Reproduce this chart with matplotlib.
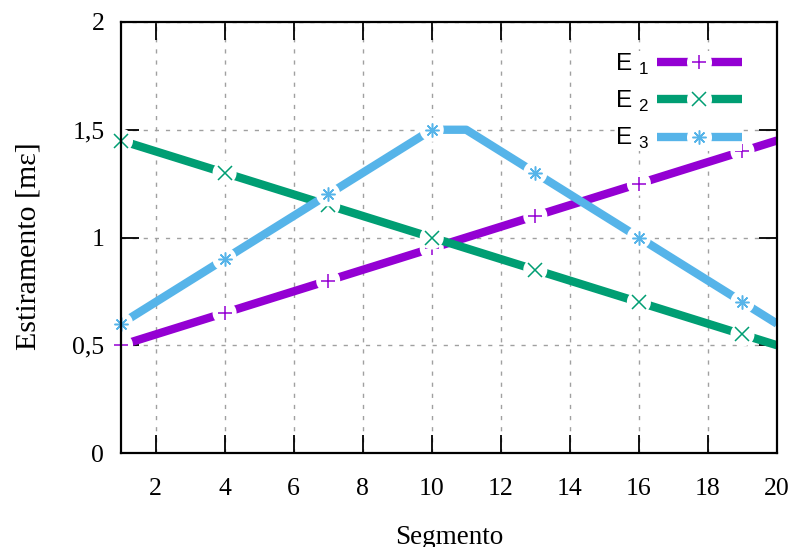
import matplotlib
matplotlib.use("Agg")
import matplotlib.pyplot as plt
from matplotlib.lines import Line2D
from matplotlib.legend_handler import HandlerTuple
from matplotlib.ticker import FuncFormatter

plt.rcParams['font.family'] = 'Liberation Serif'
plt.rcParams['mathtext.fontset'] = 'custom'
plt.rcParams['mathtext.rm'] = 'Liberation Sans'

segmento = list(range(1, 21))
e1 = [0.50, 0.55, 0.60, 0.65, 0.70, 0.75, 0.80, 0.85, 0.90, 0.95,
      1.00, 1.05, 1.10, 1.15, 1.20, 1.25, 1.30, 1.35, 1.40, 1.45]
e2 = [1.45, 1.40, 1.35, 1.30, 1.25, 1.20, 1.15, 1.10, 1.05, 1.00,
      0.95, 0.90, 0.85, 0.80, 0.75, 0.70, 0.65, 0.60, 0.55, 0.50]
e3 = [0.60, 0.70, 0.80, 0.90, 1.00, 1.10, 1.20, 1.30, 1.40, 1.50,
      1.50, 1.40, 1.30, 1.20, 1.10, 1.00, 0.90, 0.80, 0.70, 0.60]
labels = ['E $_1$', 'E $_2$', 'E $_3$']
colors = ['#9400d3', '#009e73', '#56b4e9']
markers = ['+', 'x', (8, 2, 0)]

fig = plt.figure(figsize=(7.91, 5.47), dpi=100)
ax = fig.add_axes([121/791, 1 - 453/547, 656/791, 431/547])

handles = []
for i, (y, c, m) in enumerate(zip([e1, e2, e3], colors, markers)):
    z = 3 + 3 * i
    ax.plot(segmento, y, color=c, lw=6, solid_capstyle='butt', zorder=z)
    # white gap around every third point, like gnuplot linespoints
    ax.scatter(segmento[::3], y[::3], s=300, c='white', edgecolors='none', zorder=z + 1)
    ax.plot(segmento, y, ls='none', marker=m, ms=10, mew=1.1, color=c,
            markevery=3, zorder=z + 2, clip_on=False)
    h_line = Line2D([], [], color=c, lw=6, solid_capstyle='butt')
    h_gap = Line2D([0], [0], ls='none', marker='o', ms=17, markerfacecolor='white',
                   markeredgecolor='white')
    h_mark = Line2D([], [], ls='none', marker=m, ms=10, mew=1.1, color=c)
    handles.append((h_line, h_gap, h_mark))

ax.set_xlim(1, 20)
ax.set_ylim(0, 2)
ax.set_xticks(range(2, 21, 2))
ax.set_yticks([0, 0.5, 1, 1.5, 2])
ax.yaxis.set_major_formatter(FuncFormatter(lambda v, p: ('%g' % v).replace('.', ',')))
ax.tick_params(direction='in', length=13, width=1.3, labelsize=18.5,
               top=True, right=True)
ax.tick_params(axis='x', pad=18)
ax.tick_params(axis='y', pad=12)
ax.grid(True, color='#a0a0a0', ls=(0, (3, 5)), lw=1)
for s in ax.spines.values():
    s.set_linewidth(1.6)
    s.set_zorder(15)

ax.set_xlabel('Segmento', fontsize=19.5, labelpad=18)
ax.set_ylabel('Estiramento [mε]', fontsize=21.5)
ax.yaxis.set_label_coords(-0.121, 0.48)

leg = ax.legend(handles, labels, handler_map={tuple: HandlerTuple(ndivide=1, pad=0)},
                loc='upper right', bbox_to_anchor=(0.946, 0.932), markerfirst=False,
                frameon=True, facecolor='white', edgecolor='none', framealpha=1,
                fancybox=False, prop={'family': 'Liberation Sans', 'size': 17.5},
                handlelength=3.5, labelspacing=0.5, borderpad=0.0, handletextpad=0.3,
                borderaxespad=0.0)
leg.set_zorder(20)

fig.savefig('out.png', dpi=100)
